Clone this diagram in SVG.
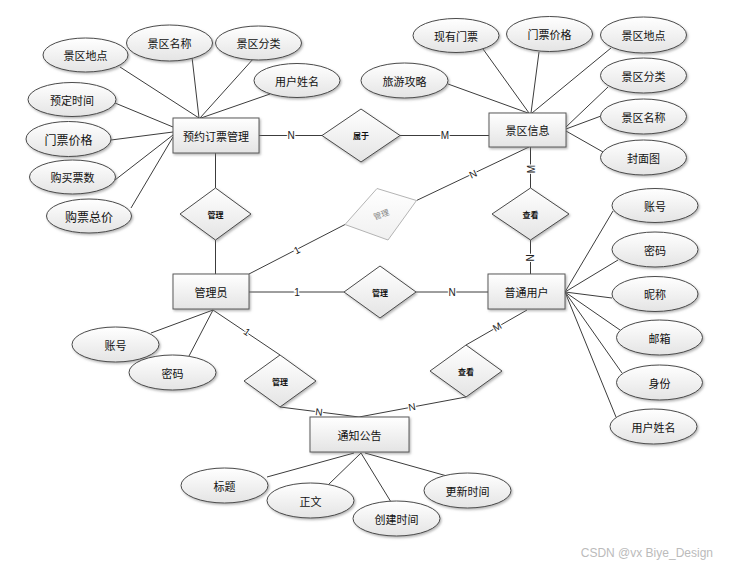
<svg xmlns="http://www.w3.org/2000/svg" width="729" height="565" viewBox="0 0 729 565">
<defs>
<linearGradient id="g" x1="0" y1="0" x2="0" y2="1">
<stop offset="0" stop-color="#ffffff"/>
<stop offset="1" stop-color="#e4e4e4"/>
</linearGradient>
<linearGradient id="gl" x1="0" y1="0" x2="0" y2="1">
<stop offset="0" stop-color="#ffffff"/>
<stop offset="1" stop-color="#f0f0f0"/>
</linearGradient>
<filter id="sh" x="-20%" y="-20%" width="140%" height="150%">
<feDropShadow dx="1.2" dy="1.5" stdDeviation="0.8" flood-color="#777" flood-opacity="0.55"/>
</filter>
</defs>
<style>
.ln{stroke:#3c3c3c;stroke-width:1;fill:none}
.ent{fill:url(#g);stroke:#5a5a5a;stroke-width:1;filter:url(#sh)}
.att{fill:url(#g);stroke:#4a4a4a;stroke-width:1;filter:url(#sh)}
.rel{fill:url(#g);stroke:#4a4a4a;stroke-width:1;filter:url(#sh)}
.relg{fill:url(#gl);stroke:#b4b4b4;stroke-width:1}
text{font-family:"Noto Sans CJK SC","Microsoft YaHei",sans-serif;fill:#111;text-anchor:middle;dominant-baseline:central}
.t11{font-size:11px}
.t12{font-size:12px}
.tr{font-size:8px;font-weight:bold}
.tg{font-size:8px;fill:#888}
.lab{font-family:"Liberation Sans",Arial,sans-serif;font-size:10px;fill:#222;stroke:#fff;stroke-width:2.5;paint-order:stroke}
.wm{font-family:"Liberation Sans",Arial,sans-serif;font-size:12px;fill:#bbbbbb;text-anchor:end}
</style>
<rect width="729" height="565" fill="#fff"/>

<g id="connectors">
<line class="ln" x1="120" y1="67" x2="199" y2="118"/>
<line class="ln" x1="192" y1="57" x2="199" y2="118"/>
<line class="ln" x1="254" y1="58" x2="200" y2="118"/>
<line class="ln" x1="270" y1="94" x2="201" y2="118"/>
<line class="ln" x1="115" y1="103" x2="173" y2="127"/>
<line class="ln" x1="111" y1="140" x2="173" y2="132"/>
<line class="ln" x1="115" y1="180" x2="173" y2="135"/>
<line class="ln" x1="131" y1="208" x2="173" y2="137"/>
<line class="ln" x1="448" y1="84" x2="528" y2="113"/>
<line class="ln" x1="483" y1="49" x2="529" y2="113"/>
<line class="ln" x1="539" y1="52" x2="531" y2="113"/>
<line class="ln" x1="611" y1="48" x2="532" y2="113"/>
<line class="ln" x1="608" y1="87" x2="566" y2="127"/>
<line class="ln" x1="601" y1="116" x2="566" y2="129"/>
<line class="ln" x1="603" y1="152" x2="566" y2="131"/>
<line class="ln" x1="259" y1="135.5" x2="322" y2="135.5"/>
<line class="ln" x1="400" y1="135.5" x2="489" y2="135.5"/>
<line class="ln" x1="215.5" y1="153" x2="215.5" y2="188"/>
<line class="ln" x1="215.5" y1="240" x2="215.5" y2="274"/>
<line class="ln" x1="530.5" y1="147" x2="530.5" y2="188"/>
<line class="ln" x1="530.5" y1="240" x2="530.5" y2="274"/>
<line class="ln" x1="249" y1="274" x2="345" y2="224.5"/>
<line class="ln" x1="416.5" y1="200.5" x2="529" y2="147"/>
<line class="ln" x1="249" y1="292" x2="344" y2="292"/>
<line class="ln" x1="416" y1="292" x2="488" y2="292"/>
<line class="ln" x1="213" y1="310" x2="151" y2="333"/>
<line class="ln" x1="213" y1="310" x2="189" y2="356"/>
<line class="ln" x1="213" y1="310" x2="280" y2="355"/>
<line class="ln" x1="280" y1="407" x2="359" y2="417"/>
<line class="ln" x1="466" y1="397" x2="359" y2="417"/>
<line class="ln" x1="527" y1="310" x2="466" y2="345"/>
<line class="ln" x1="267" y1="477" x2="354" y2="453"/>
<line class="ln" x1="328" y1="485" x2="361" y2="453"/>
<line class="ln" x1="391" y1="502" x2="361" y2="453"/>
<line class="ln" x1="447" y1="476" x2="365" y2="453"/>
<line class="ln" x1="613" y1="211" x2="565" y2="292"/>
<line class="ln" x1="618" y1="260" x2="565" y2="292"/>
<line class="ln" x1="612" y1="298" x2="565" y2="292"/>
<line class="ln" x1="620" y1="330" x2="565" y2="292"/>
<line class="ln" x1="622" y1="373" x2="565" y2="292"/>
<line class="ln" x1="616" y1="417" x2="565" y2="292"/>
<text class="lab" x="291" y="135.5">N</text>
<text class="lab" x="445" y="135.5">M</text>
<text class="lab" transform="translate(531,169) rotate(-90)">M</text>
<text class="lab" transform="translate(530.5,258) rotate(-90)">N</text>
<text class="lab" transform="translate(297,250) rotate(-27)">1</text>
<text class="lab" transform="translate(473,174) rotate(-25)">N</text>
<text class="lab" x="297" y="292">1</text>
<text class="lab" x="452" y="292">N</text>
<text class="lab" transform="translate(247,332) rotate(34)">1</text>
<text class="lab" transform="translate(319,412) rotate(7)">N</text>
<text class="lab" transform="translate(412,407) rotate(-10)">N</text>
<text class="lab" transform="translate(497,327) rotate(-30)">M</text>
</g>

<g id="e-booking"><rect class="ent" x="173" y="118" width="86" height="35"/><text class="t11" x="216" y="135.5">预约订票管理</text></g>
<g id="e-scenic"><rect class="ent" x="489" y="113" width="77" height="34"/><text class="t11" x="527.5" y="130">景区信息</text></g>
<g id="e-admin"><rect class="ent" x="173" y="274" width="76" height="35"/><text class="t11" x="211" y="291.5">管理员</text></g>
<g id="e-user"><rect class="ent" x="488" y="274" width="77" height="35"/><text class="t11" x="526.5" y="291.5">普通用户</text></g>
<g id="e-notice"><rect class="ent" x="310" y="417" width="99" height="35"/><text class="t11" x="359.5" y="434.5">通知公告</text></g>

<g id="r-belong"><polygon class="rel" points="361,109 400,135.5 361,162 322,135.5"/><text class="tr" x="361" y="135.5">属于</text></g>
<g id="r-manage1"><polygon class="rel" points="215.5,188 251,214 215.5,240 180,214"/><text class="tr" x="215.5" y="214">管理</text></g>
<g id="r-manage-gray"><polygon class="relg" points="377,188.5 416.5,200.5 388,240 345,224.5"/><text class="tg" transform="translate(381,214) rotate(-20)">管理</text></g>
<g id="r-view1"><polygon class="rel" points="530.5,188 569,214 530.5,240 492,214"/><text class="tr" x="530.5" y="214">查看</text></g>
<g id="r-manage2"><polygon class="rel" points="380,266 416,292 380,318 344,292"/><text class="tr" x="380" y="292">管理</text></g>
<g id="r-manage3"><polygon class="rel" points="280,355 316,381 280,407 244,381"/><text class="tr" x="280" y="381">管理</text></g>
<g id="r-view2"><polygon class="rel" points="466,345 502,371 466,397 430,371"/><text class="tr" x="466" y="371">查看</text></g>

<g id="a-b-loc"><ellipse class="att" cx="85.5" cy="55" rx="42.5" ry="17"/><text class="t11" x="85.5" y="55">景区地点</text></g>
<g id="a-b-name"><ellipse class="att" cx="169.5" cy="43" rx="43" ry="18"/><text class="t11" x="169.5" y="43">景区名称</text></g>
<g id="a-b-cat"><ellipse class="att" cx="258.5" cy="43" rx="43" ry="17"/><text class="t11" x="258.5" y="43">景区分类</text></g>
<g id="a-b-uname"><ellipse class="att" cx="297" cy="80.5" rx="43" ry="17"/><text class="t11" x="297" y="80.5">用户姓名</text></g>
<g id="a-b-time"><ellipse class="att" cx="72" cy="99.5" rx="44" ry="17"/><text class="t11" x="72" y="99.5">预定时间</text></g>
<g id="a-b-price"><ellipse class="att" cx="68.5" cy="139" rx="42.5" ry="17.5"/><text class="t12" x="68.5" y="139">门票价格</text></g>
<g id="a-b-num"><ellipse class="att" cx="72.5" cy="177" rx="43" ry="17"/><text class="t11" x="72.5" y="177">购买票数</text></g>
<g id="a-b-total"><ellipse class="att" cx="89" cy="216" rx="42.5" ry="17"/><text class="t12" x="89" y="216">购票总价</text></g>

<g id="a-s-guide"><ellipse class="att" cx="404.5" cy="80.5" rx="43.5" ry="17.5"/><text class="t11" x="404.5" y="80.5">旅游攻略</text></g>
<g id="a-s-ticket"><ellipse class="att" cx="456" cy="35.5" rx="43" ry="17"/><text class="t11" x="456" y="35.5">现有门票</text></g>
<g id="a-s-price"><ellipse class="att" cx="549.5" cy="34" rx="43" ry="17.5"/><text class="t11" x="549.5" y="34">门票价格</text></g>
<g id="a-s-loc"><ellipse class="att" cx="643.5" cy="35" rx="43" ry="18"/><text class="t11" x="643.5" y="35">景区地点</text></g>
<g id="a-s-cat"><ellipse class="att" cx="643.5" cy="75.5" rx="43" ry="17.5"/><text class="t11" x="643.5" y="75.5">景区分类</text></g>
<g id="a-s-name"><ellipse class="att" cx="643.5" cy="116.5" rx="43" ry="17.5"/><text class="t11" x="643.5" y="116.5">景区名称</text></g>
<g id="a-s-cover"><ellipse class="att" cx="643.5" cy="157.5" rx="43" ry="17.5"/><text class="t11" x="643.5" y="157.5">封面图</text></g>

<g id="a-u-acc"><ellipse class="att" cx="655" cy="205.5" rx="43" ry="17"/><text class="t11" x="655" y="205.5">账号</text></g>
<g id="a-u-pwd"><ellipse class="att" cx="655" cy="249.5" rx="43" ry="17.5"/><text class="t11" x="655" y="249.5">密码</text></g>
<g id="a-u-nick"><ellipse class="att" cx="655" cy="294" rx="43" ry="17.5"/><text class="t11" x="655" y="294">昵称</text></g>
<g id="a-u-mail"><ellipse class="att" cx="659.5" cy="337.5" rx="43" ry="17.5"/><text class="t11" x="659.5" y="337.5">邮箱</text></g>
<g id="a-u-role"><ellipse class="att" cx="659.5" cy="382.5" rx="43" ry="17.5"/><text class="t11" x="659.5" y="382.5">身份</text></g>
<g id="a-u-name"><ellipse class="att" cx="653.5" cy="426.5" rx="43.5" ry="17.5"/><text class="t11" x="653.5" y="426.5">用户姓名</text></g>

<g id="a-a-acc"><ellipse class="att" cx="115.5" cy="344.5" rx="43.5" ry="17.5"/><text class="t11" x="115.5" y="344.5">账号</text></g>
<g id="a-a-pwd"><ellipse class="att" cx="172.5" cy="372.5" rx="43.5" ry="17.5"/><text class="t11" x="172.5" y="372.5">密码</text></g>

<g id="a-n-title"><ellipse class="att" cx="224.5" cy="485.5" rx="43.5" ry="17.5"/><text class="t11" x="224.5" y="485.5">标题</text></g>
<g id="a-n-body"><ellipse class="att" cx="310.5" cy="500.5" rx="43.5" ry="17.5"/><text class="t11" x="310.5" y="500.5">正文</text></g>
<g id="a-n-create"><ellipse class="att" cx="396.5" cy="518.5" rx="43.5" ry="17.5"/><text class="t11" x="396.5" y="518.5">创建时间</text></g>
<g id="a-n-update"><ellipse class="att" cx="467.5" cy="490.5" rx="43.5" ry="17.5"/><text class="t11" x="467.5" y="490.5">更新时间</text></g>

<text class="wm" x="713" y="553">CSDN @vx Biye_Design</text>
</svg>
